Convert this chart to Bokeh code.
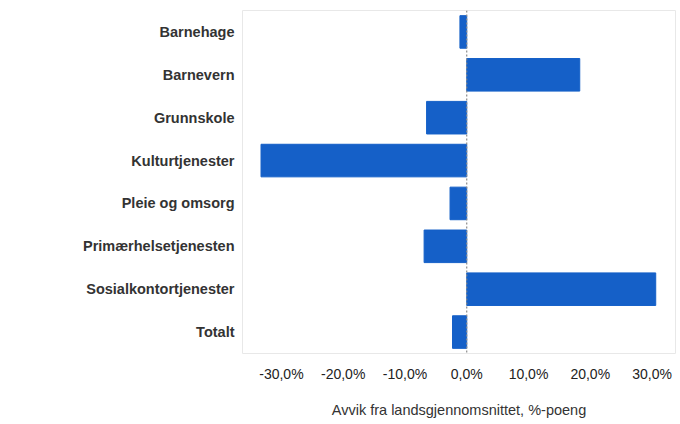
from bokeh.plotting import figure
from bokeh.models import FactorRange, Range1d, FixedTicker, CustomJSTickFormatter, Span, ColumnDataSource
from bokeh.embed import file_html
from bokeh.resources import INLINE

categories = ["Barnehage", "Barnevern", "Grunnskole", "Kulturtjenester",
              "Pleie og omsorg", "Primærhelsetjenesten", "Sosialkontortjenester", "Totalt"]
deviation = [-1.1, 18.3, -6.5, -33.3, -2.7, -6.9, 30.6, -2.3]
x_ticks = [-30, -20, -10, 0, 10, 20, 30]
x_title = "Avvik fra landsgjennomsnittet, %-poeng"

src = ColumnDataSource(dict(cat=categories, val=deviation))

p = figure(width=676, height=420, output_backend="svg", toolbar_location=None,
           y_range=FactorRange(factors=list(reversed(categories)), range_padding=0),
           x_range=Range1d(-36.3, 33.8),
           min_border_left=242, min_border_right=1, min_border_top=10, min_border_bottom=60)

p.hbar(y="cat", right="val", left=0, height=0.76, source=src,
       fill_color="#1560c8", line_color="#1560c8")

p.add_layout(Span(location=0, dimension="height", line_color="#8a8a8a",
                  line_dash="2 2", line_width=1.2))

p.xgrid.visible = False
p.ygrid.visible = False
p.outline_line_color = "#e8e8e8"
p.background_fill_color = "white"
p.border_fill_color = "white"

xa = p.xaxis[0]
xa.ticker = FixedTicker(ticks=x_ticks)
xa.formatter = CustomJSTickFormatter(code="return tick.toFixed(1).replace('.', ',') + '%';")
xa.axis_line_color = None
xa.major_tick_line_color = None
xa.minor_tick_line_color = None
xa.major_tick_out = 0
xa.major_label_standoff = 12
xa.major_label_text_font = "Liberation Sans"
xa.major_label_text_font_size = "14px"
xa.major_label_text_color = "#222222"
xa.axis_label = x_title
xa.axis_label_text_font = "Liberation Sans"
xa.axis_label_text_font_style = "normal"
xa.axis_label_text_font_size = "14.5px"
xa.axis_label_text_color = "#333333"
xa.axis_label_standoff = 17

ya = p.yaxis[0]
ya.axis_line_color = None
ya.major_tick_line_color = None
ya.minor_tick_line_color = None
ya.major_tick_out = 0
ya.major_label_standoff = 8
ya.major_label_text_font = "Liberation Sans"
ya.major_label_text_font_style = "bold"
ya.major_label_text_font_size = "14.5px"
ya.major_label_text_color = "#333333"

open("out.html", "w").write(file_html(p, INLINE))
